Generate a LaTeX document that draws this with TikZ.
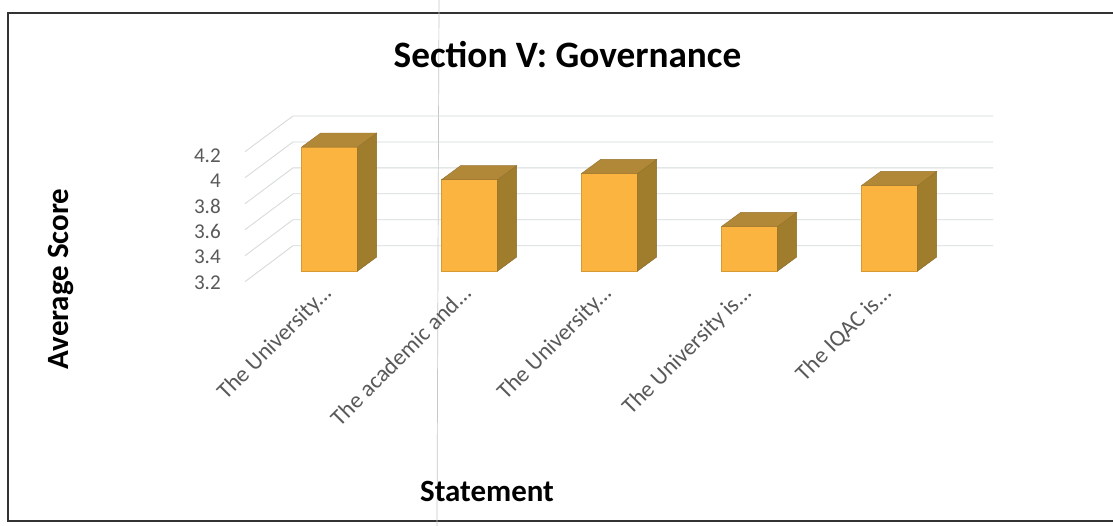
\documentclass[tikz,border=0pt]{standalone}
\usepackage{fontspec}
\setmainfont{Carlito}
\usetikzlibrary{positioning}
\definecolor{barfront}{HTML}{FBB440}
\definecolor{barside}{HTML}{A07D2D}
\definecolor{bartop}{HTML}{B08838}
\definecolor{gridgray}{HTML}{D4DADA}
\definecolor{tickgray}{HTML}{595959}
\newcommand{\moredots}{...}

\begin{document}
\begin{tikzpicture}[x=0.025cm,y=-0.025cm]
  \tikzstyle{grid}=[draw=gridgray,line width=0.6pt]
  \tikzstyle{tick}=[anchor=east,inner sep=0pt,text=tickgray,
                    font=\fontsize{15}{18}\selectfont]
  \tikzstyle{category}=[anchor=base east,rotate=45,inner sep=0pt,text=tickgray,
                        font=\fontsize{16.5}{19}\selectfont]
  \tikzstyle{axistitle}=[anchor=base,inner sep=0pt,font=\bfseries\fontsize{22}{26}\selectfont]
  \tikzstyle{face}=[line width=0.3pt]

  \useasboundingbox (0,0) rectangle (1113,526);
  \fill[white] (0,0) rectangle (1113,526);
  \draw[line width=1.2pt,black!80] (8,13) rectangle (1125,521);
  \draw[black!22,line width=0.5pt] (439,0) -- (437,526);

  % walls
  \foreach \k in {0,...,5} {
    \draw[grid] (245,281.7-26*\k) -- (293,245.7-25.94*\k) -- (993,245.7-25.94*\k);
  }
  \foreach \v [count=\k from 0] in {3.2,3.4,3.6,3.8,4,4.2}
    \node[tick] (t\k) at (221,282.5-25.4*\k) {\v};

  % bars
  \foreach \v [count=\i from 0] in {4.156,3.905,3.953,3.544,3.86} {
    \pgfmathsetmacro\xl{301.7+140*\i}
    \pgfmathsetmacro\yt{271-129.7*(\v-3.2)}
    \filldraw[face,fill=barfront,draw=barfront!85!black] (\xl,271) rectangle (\xl+56,\yt);
    \filldraw[face,fill=barside,draw=barside!85!black]
      (\xl+56,271) -- (\xl+75,257) -- (\xl+75,\yt-14) -- (\xl+56,\yt) -- cycle;
    \filldraw[face,fill=bartop,draw=bartop!85!black]
      (\xl,\yt) -- (\xl+19,\yt-14) -- (\xl+75,\yt-14) -- (\xl+56,\yt) -- cycle;
  }

  % category labels
  \foreach \t [count=\i from 0] in {The University\moredots,The academic and\moredots,
      The University\moredots,The University is\moredots,The IQAC is\moredots}
    \node[category] (c\i) at (333+140*\i,294) {\t};

  \node[anchor=base,inner sep=0pt,font=\bfseries\fontsize{26.5}{30}\selectfont]
    (title) at (567.5,67) {Section V: Governance};
  \node[axistitle] (xtitle) at (487,501.7) {Statement};
  \node[axistitle,rotate=90] (ytitle) at (68,279) {Average Score};
\end{tikzpicture}
\end{document}
